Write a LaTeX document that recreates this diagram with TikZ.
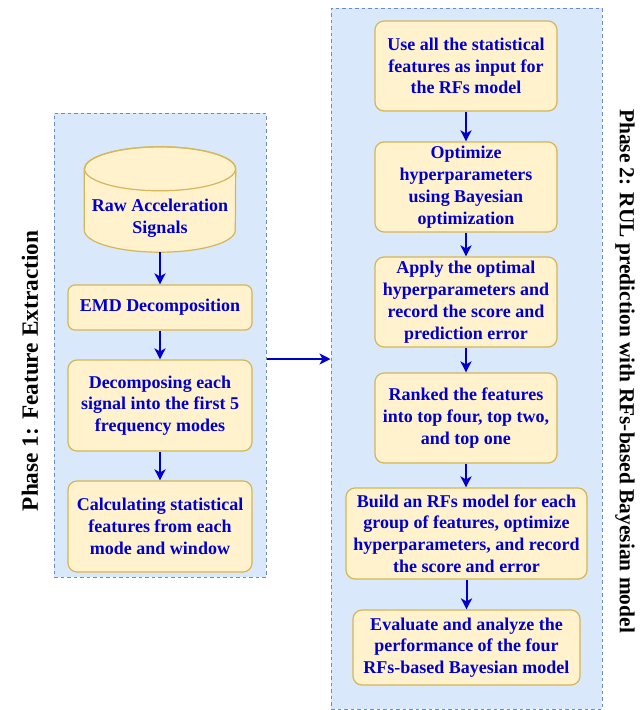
\documentclass[tikz,border=0pt]{standalone}
\usepackage{fontspec}
\setmainfont{Liberation Serif}
\usetikzlibrary{arrows.meta,calc}
\definecolor{panelfill}{HTML}{DAE8FC}
\definecolor{paneldraw}{HTML}{6C8EBF}
\definecolor{boxfill}{HTML}{FFF2CC}
\definecolor{boxdraw}{HTML}{D6B656}
\definecolor{txtblue}{HTML}{0000CC}
\tikzset{
  panel/.style={draw=paneldraw, fill=panelfill, line width=1pt, dash pattern=on 3.5pt off 3pt, inner sep=0pt},
  boxtext/.style={align=center, text=txtblue, font=\fontsize{18}{21.8}\selectfont\bfseries},
  stepbox/.style={boxtext, draw=boxdraw, fill=boxfill, line width=1.2pt, rounded corners=9pt, inner sep=0pt},
  flow/.style={draw=txtblue, line width=2pt, -{Stealth[length=11pt,width=11pt,inset=3pt]}},
  phase/.style={text=black, inner sep=0pt}
}
\begin{document}
\begin{tikzpicture}[x=1pt,y=-1pt]
\useasboundingbox (0,0) rectangle (644,710);
% panels
\node[panel, minimum width=212, minimum height=464] (p1) at (160,345) {};
\node[panel, minimum width=271, minimum height=701] (p2) at (466.5,358.5) {};
% phase labels
\node[phase, rotate=90, font=\fontsize{23.3}{26}\selectfont\bfseries] (ph1) at (30,371) {Phase 1: Feature Extraction};
\node[phase, rotate=-90, font=\fontsize{21.4}{24}\selectfont\bfseries] (ph2) at (625,371) {Phase 2: RUL prediction with RFs-based Bayesian model};
% cylinder
\node[minimum width=151, minimum height=105, inner sep=0pt] (raw) at (160,199.5) {};
\draw[draw=boxdraw, fill=boxfill, line width=1.2pt]
  ($(raw.north west)+(0,22)$) -- ($(raw.south west)+(0,-22)$)
  arc[start angle=180, end angle=360, x radius=75.5pt, y radius=22pt]
  -- ($(raw.north east)+(0,22)$)
  arc[start angle=0, end angle=180, x radius=75.5pt, y radius=22pt] -- cycle;
\draw[draw=boxdraw, line width=1.2pt] ($(raw.north)+(0,22)$) ellipse[x radius=75.5pt, y radius=22pt];
\node[boxtext] (rawtxt) at (160,218) {Raw Acceleration\\Signals};
% left boxes
\node[stepbox, rounded corners=7pt, minimum width=184, minimum height=45] (emd) at (160,307.5) {EMD Decomposition};
\node[stepbox, minimum width=184, minimum height=91] (dec) at (160,405.5) {Decomposing each\\signal into the first 5\\frequency modes};
\node[stepbox, minimum width=184, minimum height=91] (calc) at (160,526.5) {Calculating statistical\\features from each\\mode and window};
% right boxes
\node[stepbox, minimum width=182, minimum height=90] (b1) at (466,66) {Use all the statistical\\features as input for\\the RFs model};
\node[stepbox, minimum width=182, minimum height=90] (b2) at (466,187) {Optimize\\hyperparameters\\using Bayesian\\optimization};
\node[stepbox, minimum width=182, minimum height=90] (b3) at (466,302) {Apply the optimal\\hyperparameters and\\record the score and\\prediction error};
\node[stepbox, minimum width=182, minimum height=90] (b4) at (466,418) {Ranked the features\\into top four, top two,\\and top one};
\node[stepbox, minimum width=241, minimum height=91] (b5) at (466.5,533.5) {Build an RFs model for each\\group of features, optimize\\hyperparameters, and record\\the score and error};
\node[stepbox, minimum width=227, minimum height=75] (b6) at (466.5,647.5) {Evaluate and analyze the\\performance of the four\\RFs-based Bayesian model};
% connectors
\draw[flow] (raw.south) -- (emd.north);
\draw[flow] (emd) -- (dec);
\draw[flow] (dec) -- (calc);
\draw[flow] (b1) -- (b2);
\draw[flow] (b2) -- (b3);
\draw[flow] (b3) -- (b4);
\draw[flow] (b4.south) -- (b4.south |- b5.north);
\draw[flow] (b5.south -| b6.north) -- (b6.north);
\draw[flow, line width=1.5pt] (p1.east |- 0,359) -- (p2.west |- 0,359);
\end{tikzpicture}
\end{document}
